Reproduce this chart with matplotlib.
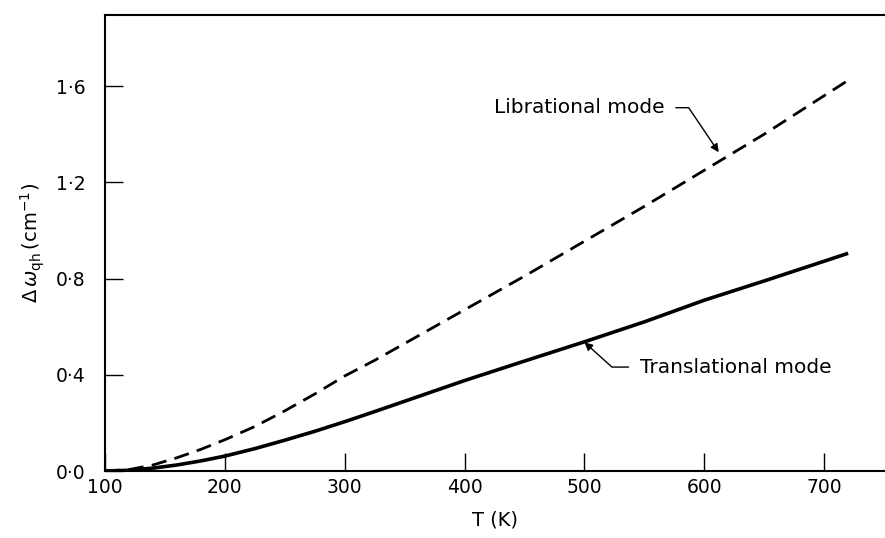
import matplotlib
matplotlib.use("Agg")
import matplotlib.pyplot as plt

plt.rcParams["font.family"] = ["DejaVu Sans"]
plt.rcParams["mathtext.fontset"] = "dejavusans"

# temperature (K) and quasi-harmonic shift (cm^-1)
temp_lib = [100, 120, 140, 160, 180, 200, 225, 250, 275, 300, 325, 350, 375, 400,
            450, 500, 550, 600, 650, 700, 722]
shift_lib = [0.0, 0.006, 0.025, 0.055, 0.09, 0.13, 0.185, 0.25, 0.32, 0.395, 0.46,
             0.53, 0.60, 0.67, 0.81, 0.955, 1.10, 1.25, 1.40, 1.56, 1.63]

temp_tra = [100, 120, 140, 160, 180, 200, 225, 250, 275, 300, 325, 350, 375, 400,
            450, 500, 550, 600, 650, 700, 720]
shift_tra = [0.0, 0.003, 0.012, 0.025, 0.042, 0.062, 0.093, 0.128, 0.165, 0.205, 0.247,
             0.29, 0.333, 0.376, 0.457, 0.537, 0.62, 0.71, 0.79, 0.872, 0.905]

x_ticks = [100, 200, 300, 400, 500, 600, 700]
y_ticks = [0.0, 0.4, 0.8, 1.2, 1.6]
y_tick_labels = ["0·0", "0·4", "0·8", "1·2", "1·6"]

fig = plt.figure(figsize=(8.85, 5.38), dpi=100)
ax = fig.add_axes([0.1186, 0.1245, 0.8804, 0.8475])

ax.plot(temp_lib, shift_lib, color="black", lw=2.0, linestyle=(0, (5.5, 3)))
ax.plot(temp_tra, shift_tra, color="black", lw=2.6, solid_capstyle="butt")

ax.set_xlim(100, 750)
ax.set_ylim(0, 1.895)
ax.set_xticks(x_ticks)
ax.set_yticks(y_ticks)
ax.set_yticklabels(y_tick_labels)

ax.tick_params(axis="both", direction="in", length=13, width=1.0, labelsize=13.5, color="black")
ax.tick_params(axis="y", pad=14)
ax.tick_params(axis="x", pad=5)

for side in ("left", "bottom", "top"):
    ax.spines[side].set_linewidth(1.5)
ax.spines["right"].set_visible(False)

ax.set_xlabel("T (K)", fontsize=14, labelpad=10)
ax.set_ylabel(r"$\Delta\,\omega_{\rm qh}\,({\rm cm}^{-1})$", fontsize=14, labelpad=6)

ax.annotate("Librational mode", xy=(612, 1.325), xytext=(567, 1.51),
            fontsize=14.5, ha="right", va="center",
            arrowprops=dict(arrowstyle="-|>", color="black", lw=1.0,
                            connectionstyle="angle,angleA=0,angleB=124,rad=0",
                            shrinkA=6, shrinkB=0, mutation_scale=12))
ax.annotate("Translational mode", xy=(500, 0.535), xytext=(546, 0.432),
            fontsize=14.5, ha="left", va="center",
            arrowprops=dict(arrowstyle="-|>", color="black", lw=1.0,
                            connectionstyle="angle,angleA=180,angleB=-42,rad=0",
                            shrinkA=6, shrinkB=0, mutation_scale=12))

fig.savefig("out.png", dpi=100)
